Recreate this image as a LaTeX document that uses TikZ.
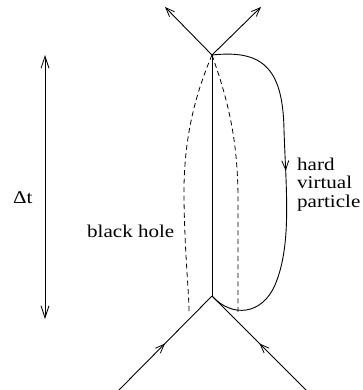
\documentclass[tikz,border=0pt]{standalone}
\usepackage{fontspec}
\setmainfont{Liberation Serif}
\newfontfamily\lbfont[FakeStretch=1.17]{Liberation Serif}
\usetikzlibrary{arrows.meta,decorations.markings}
\begin{document}
\begin{tikzpicture}[x=1pt,y=-1pt,
  line/.style={line width=0.9pt},
  dashline/.style={line width=0.8pt,dash pattern=on 5pt off 3.5pt},
  tip/.style={-{Straight Barb[length=9pt,width=7pt,line width=0.8pt]}},
  midtip/.style={postaction={decorate},decoration={markings,
     mark=at position #1 with {\arrow{Straight Barb[length=9pt,width=7pt,line width=0.8pt]}}}},
  lbl/.style={inner sep=0pt,font=\lbfont\fontsize{18}{18.5}\selectfont}]
\useasboundingbox (0,0) rectangle (362,390);
\coordinate (T) at (212,55);
\coordinate (B) at (212,296);
\coordinate (tl) at (165,7);
\coordinate (tr) at (261,7);
\coordinate (bl) at (118,391);
\coordinate (br) at (307,391);
\coordinate (dtop) at (45,55);
\coordinate (dbot) at (45,319);
% outgoing
\draw[line,tip] (T) -- (tl);
\draw[line,tip] (T) -- (tr);
% incoming
\draw[line,midtip=0.5] (bl) -- (B);
\draw[line,midtip=0.5] (br) -- (B);
% black hole worldline
\draw[line] (T) -- (B);
% horizon (dashed)
\draw[dashline] (T) .. controls (195,95) and (183,140) .. (184,200)
   .. controls (185,260) and (189,290) .. (189,313);
\draw[dashline] (T) .. controls (228,100) and (238,140) .. (238,200)
   .. controls (238,260) and (238,290) .. (238,313);
% hard virtual particle loop
\draw[line,midtip=0.46] (T) .. controls (260,50) and (283,65) .. (284,130)
   .. controls (286,190) and (292,245) .. (275,285)
   .. controls (262,315) and (232,318) .. (B);
% Delta t
\draw[line width=0.8pt,{Straight Barb[length=12pt,width=8pt,line width=0.8pt]}-{Straight Barb[length=12pt,width=8pt,line width=0.8pt]}] (dtop) -- (dbot);
\node[lbl,anchor=base west] (dt) at (13,203) {Δt};
\node[lbl,anchor=base west] (bh) at (87,237) {black hole};
\node[lbl,anchor=base west,align=left] (hvp) at (297,207) {hard\\virtual\\particle};
\end{tikzpicture}
\end{document}
